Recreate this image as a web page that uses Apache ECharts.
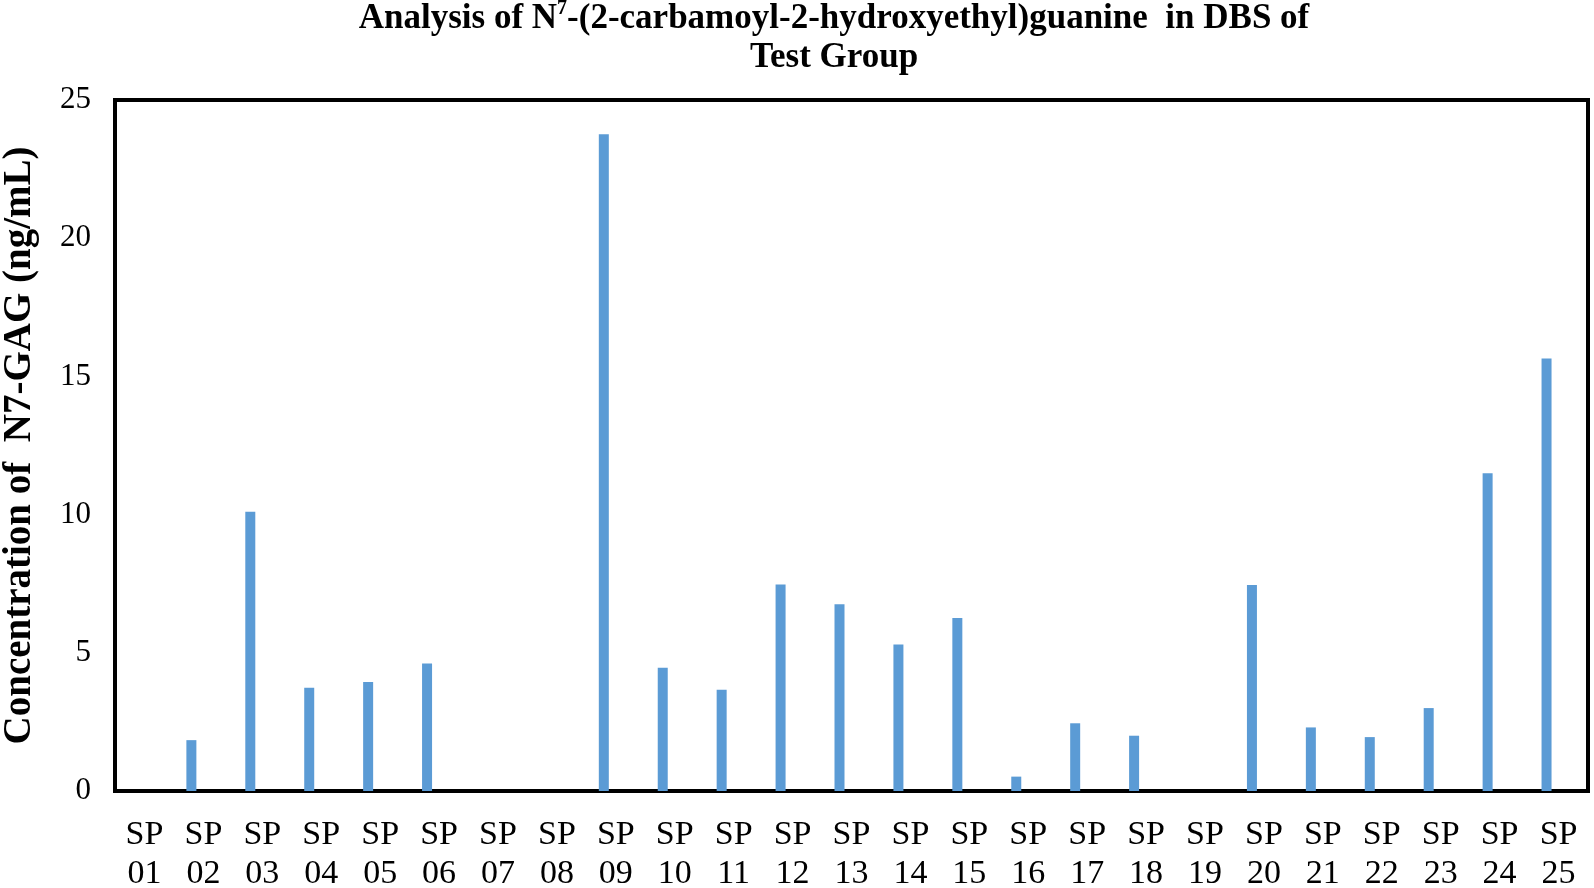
<!DOCTYPE html>
<html>
<head>
<meta charset="utf-8">
<script src="https://cdn.jsdelivr.net/npm/echarts@6/dist/echarts.min.js"></script>
<style>
	html, body { margin: 0; padding: 0; background: #fff; }
	#chart { width: 1594px; height: 888px; }
</style>
</head>
<body>
<div id="chart"></div>
<script>
// sample names and measured N7-GAG concentrations (ng/mL)
const samples = [
	'SP\n01', 'SP\n02', 'SP\n03', 'SP\n04', 'SP\n05', 'SP\n06', 'SP\n07', 'SP\n08', 'SP\n09', 'SP\n10',
	'SP\n11', 'SP\n12', 'SP\n13', 'SP\n14', 'SP\n15', 'SP\n16', 'SP\n17', 'SP\n18', 'SP\n19', 'SP\n20',
	'SP\n21', 'SP\n22', 'SP\n23', 'SP\n24', 'SP\n25',
]
const concentration = [
	0, 1.84, 10.1, 3.74, 3.94, 4.61, 0, 0, 23.76, 4.46,
	3.66, 7.47, 6.76, 5.3, 6.26, 0.52, 2.45, 2.0, 0, 7.45,
	2.3, 1.95, 3.0, 11.5, 15.65,
]
const yTicks = [0, 5, 10, 15, 20, 25]

const serif = '"Liberation Serif", "Times New Roman", serif'

const myChart = echarts.init(document.getElementById('chart'))

const option = {
	backgroundColor: '#fff',
	animation: false,
	title: {
		text: 'Analysis of N{sup|7}-(2-carbamoyl-2-hydroxyethyl)guanine  in DBS of\nTest Group',
		left: 829,
		top: -6,
		textAlign: 'center',
		textStyle: {
			fontFamily: serif,
			fontWeight: 'bold',
			fontSize: 35,
			lineHeight: 39,
			color: '#000',
			rich: {
				sup: {
					fontFamily: serif,
					fontWeight: 'bold',
					fontSize: 20,
					verticalAlign: 'top',
					padding: [0, 0, 14, 0],
					color: '#000',
				},
			},
		},
	},
	grid: {
		left: 115,
		right: 6,
		top: 100,
		bottom: 97,
		outerBoundsMode: 'none',
		show: true,
		borderColor: '#000',
		borderWidth: 4,
	},
	xAxis: {
		type: 'category',
		data: samples,
		axisLine: { lineStyle: { color: '#000', width: 2 } },
		axisTick: { show: false },
		axisLabel: {
			interval: 0,
			margin: 25,
			fontFamily: serif,
			fontSize: 34,
			lineHeight: 39,
			color: '#000',
		},
	},
	yAxis: {
		type: 'value',
		min: yTicks[0],
		max: yTicks[yTicks.length - 1],
		interval: 5,
		name: 'Concentration of  N7-GAG (ng/mL)',
		nameLocation: 'middle',
		nameRotate: 90,
		nameGap: 76,
		nameTextStyle: {
			fontFamily: serif,
			fontWeight: 'bold',
			fontSize: 39,
			color: '#000',
		},
		splitLine: { show: false },
		axisLine: { show: false },
		axisTick: { show: false },
		axisLabel: {
			margin: 24,
			fontFamily: serif,
			fontSize: 31,
			color: '#000',
		},
	},
	series: [
		{
			name: 'N7-GAG',
			type: 'bar',
			data: concentration,
			barWidth: 10,
			barGap: '140%',
			itemStyle: { color: '#5B9BD5' },
		},
		{
			// empty second series, keeps the bars off-centre as in the original
			name: 'blank',
			type: 'bar',
			data: [],
			barWidth: 10,
		},
	],
}

myChart.setOption(option)
</script>
</body>
</html>
